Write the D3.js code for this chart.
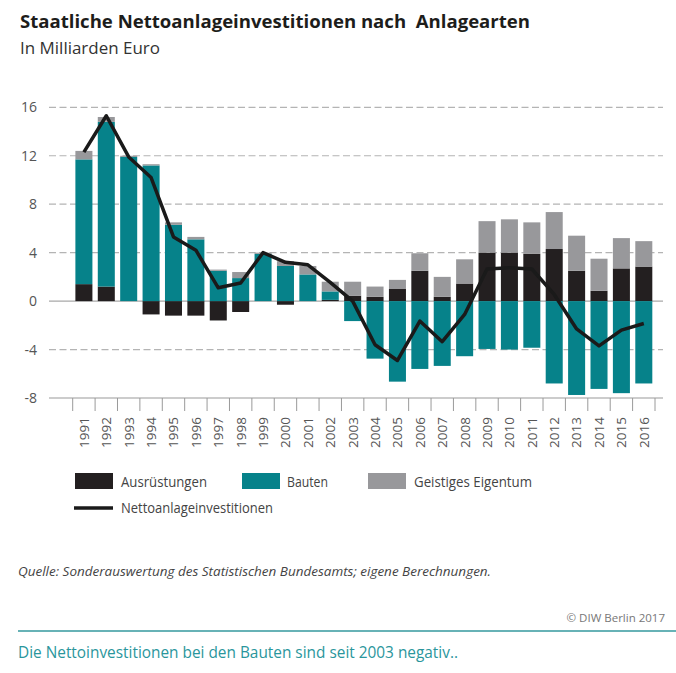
<!DOCTYPE html>
<html>
<head>
<meta charset="utf-8">
<script src="https://cdn.jsdelivr.net/npm/d3@7"></script>
<style>
  html, body { margin: 0; padding: 0; background: #fff; }
  svg { display: block; }
  text { font-family: "Open Sans", "Noto Sans", "DejaVu Sans", sans-serif; white-space: pre; }
</style>
</head>
<body>
<svg id="chart" width="676" height="673"></svg>
<script>
// ---- data ----
const years = ["1991","1992","1993","1994","1995","1996","1997","1998","1999","2000","2001","2002","2003","2004","2005","2006","2007","2008","2009","2010","2011","2012","2013","2014","2015","2016"];
const ausruestungen = [1.4, 1.2, 0.0, -1.1, -1.2, -1.2, -1.6, -0.9, 0.0, -0.3, 0.0, 0.1, 0.45, 0.35, 1.0, 2.5, 0.35, 1.45, 4.0, 4.0, 3.9, 4.3, 2.5, 0.85, 2.7, 2.85];
const bauten = [10.3, 13.6, 11.9, 11.2, 6.3, 5.1, 2.5, 1.9, 3.9, 2.9, 2.2, 0.7, -1.65, -4.75, -6.65, -5.6, -5.35, -4.55, -3.95, -4.0, -3.85, -6.8, -7.75, -7.25, -7.6, -6.8];
const geistigesEigentum = [0.7, 0.4, 0.1, 0.1, 0.2, 0.2, 0.1, 0.5, 0.1, 0.4, 0.7, 0.8, 1.15, 0.85, 0.75, 1.45, 1.65, 2.0, 2.6, 2.75, 2.6, 3.05, 2.9, 2.65, 2.5, 2.1];
const nettoanlageinvestitionen = [12.3, 15.3, 11.9, 10.2, 5.3, 4.2, 1.1, 1.5, 4.0, 3.2, 3.0, 1.55, 0.0, -3.6, -4.9, -1.65, -3.35, -1.1, 2.65, 2.75, 2.65, 0.55, -2.3, -3.7, -2.4, -1.85];
const yTicks = [-8, -4, 0, 4, 8, 12, 16];
const seriesNames = ["Ausrüstungen", "Bauten", "Geistiges Eigentum"];
const lineName = "Nettoanlageinvestitionen";

const colors = { "Ausrüstungen": "#231f20", "Bauten": "#06828a", "Geistiges Eigentum": "#98989b" };

const table = years.map((y, i) => ({
  year: y,
  "Ausrüstungen": ausruestungen[i],
  "Bauten": bauten[i],
  "Geistiges Eigentum": geistigesEigentum[i]
}));

const svg = d3.select("#chart");

// scales
const x = d3.scaleBand().domain(years).range([72.7, 655]).paddingInner(0.24).paddingOuter(0.12);
const y = d3.scaleLinear().domain([-8, 16]).range([398, 107.3]);
const axisLeft = 49, axisRight = 663;

// title
svg.append("text").attr("x", 20).attr("y", 28)
  .attr("font-size", 18).attr("font-weight", "bold").attr("fill", "#1d1d1b")
  .attr("textLength", 510).attr("lengthAdjust", "spacingAndGlyphs")
  .text("Staatliche Nettoanlageinvestitionen nach  Anlagearten");
svg.append("text").attr("x", 20).attr("y", 54)
  .attr("font-size", 17).attr("fill", "#333")
  .attr("textLength", 140).attr("lengthAdjust", "spacingAndGlyphs")
  .text("In Milliarden Euro");

// gridlines
const g = svg.append("g");
g.selectAll("line.grid").data(yTicks.filter(t => t !== -8)).join("line")
  .attr("class", "grid")
  .attr("x1", axisLeft).attr("x2", axisRight)
  .attr("y1", d => y(d)).attr("y2", d => y(d))
  .attr("stroke", d => d === 0 ? "#a8a8a8" : "#b4b4b4")
  .attr("stroke-width", 1.2)
  .attr("stroke-dasharray", d => d === 0 ? null : "7,3.5");

// y tick labels
g.selectAll("text.ytick").data(yTicks).join("text")
  .attr("class", "ytick")
  .attr("x", 37).attr("y", d => y(d)).attr("dy", "0.36em")
  .attr("text-anchor", "end").attr("font-size", 14).attr("fill", "#555")
  .text(d => d < 0 ? "-" + Math.abs(d) : d);

// stacked bars
const stack = d3.stack().keys(seriesNames).offset(d3.stackOffsetDiverging);
const layers = stack(table);
svg.append("g").selectAll("g").data(layers).join("g")
  .attr("fill", d => colors[d.key])
  .selectAll("rect").data(d => d).join("rect")
  .attr("x", d => x(d.data.year))
  .attr("width", x.bandwidth())
  .attr("y", d => y(Math.max(d[0], d[1])))
  .attr("height", d => Math.abs(y(d[0]) - y(d[1])));

// x axis line and ticks
const ax = svg.append("g");
ax.append("line").attr("x1", axisLeft).attr("x2", axisRight)
  .attr("y1", y(-8)).attr("y2", y(-8)).attr("stroke", "#9a9a9a").attr("stroke-width", 1.2);
const step = x.step();
const tickPos = years.map(d => x(d) - (step - x.bandwidth()) / 2);
tickPos.push(tickPos[tickPos.length - 1] + step);
ax.selectAll("line.tick").data(tickPos).join("line")
  .attr("class", "tick")
  .attr("x1", d => d).attr("x2", d => d)
  .attr("y1", y(-8)).attr("y2", y(-8) + 13)
  .attr("stroke", "#9a9a9a").attr("stroke-width", 1);
ax.selectAll("text.xl").data(years).join("text")
  .attr("class", "xl")
  .attr("transform", d => `translate(${x(d) + x.bandwidth() / 2},${y(-8) + 19}) rotate(-90)`)
  .attr("text-anchor", "end").attr("dy", "0.36em")
  .attr("font-size", 13.5).attr("fill", "#555")
  .text(d => d);

// line
const line = d3.line()
  .x((d, i) => x(years[i]) + x.bandwidth() / 2)
  .y(d => y(d));
svg.append("path").datum(nettoanlageinvestitionen)
  .attr("d", line).attr("fill", "none")
  .attr("stroke", "#1a1a1a").attr("stroke-width", 3.5).attr("stroke-linejoin", "round");

// legend
const leg = svg.append("g");
const legItems = [
  { name: seriesNames[0], bx: 75, tx: 121, tw: 86 },
  { name: seriesNames[1], bx: 242, tx: 287, tw: 41 },
  { name: seriesNames[2], bx: 368, tx: 414, tw: 118 }
];
legItems.forEach(it => {
  leg.append("rect").attr("x", it.bx).attr("y", 473).attr("width", 38).attr("height", 16)
    .attr("fill", colors[it.name]);
  leg.append("text").attr("x", it.tx).attr("y", 487).attr("font-size", 14).attr("fill", "#444")
    .attr("textLength", it.tw).attr("lengthAdjust", "spacingAndGlyphs").text(it.name);
});
leg.append("line").attr("x1", 74).attr("x2", 113).attr("y1", 508).attr("y2", 508)
  .attr("stroke", "#1a1a1a").attr("stroke-width", 3.5);
leg.append("text").attr("x", 121).attr("y", 513).attr("font-size", 14).attr("fill", "#444")
  .attr("textLength", 152).attr("lengthAdjust", "spacingAndGlyphs").text(lineName);

// source
svg.append("text").attr("x", 18).attr("y", 576).attr("font-size", 12.5)
  .attr("font-style", "italic").attr("fill", "#444")
  .attr("textLength", 473).attr("lengthAdjust", "spacingAndGlyphs")
  .text("Quelle: Sonderauswertung des Statistischen Bundesamts; eigene Berechnungen.");
svg.append("text").attr("x", 665).attr("y", 622).attr("font-size", 11.5)
  .attr("text-anchor", "end").attr("fill", "#777")
  .text("© DIW Berlin 2017");
svg.append("line").attr("x1", 18).attr("x2", 676).attr("y1", 631).attr("y2", 631)
  .attr("stroke", "#67b2b6").attr("stroke-width", 2);
svg.append("text").attr("x", 18).attr("y", 658).attr("font-size", 16.5).attr("fill", "#2a969c")
  .attr("textLength", 440).attr("lengthAdjust", "spacingAndGlyphs")
  .text("Die Nettoinvestitionen bei den Bauten sind seit 2003 negativ..");
</script>
</body>
</html>
